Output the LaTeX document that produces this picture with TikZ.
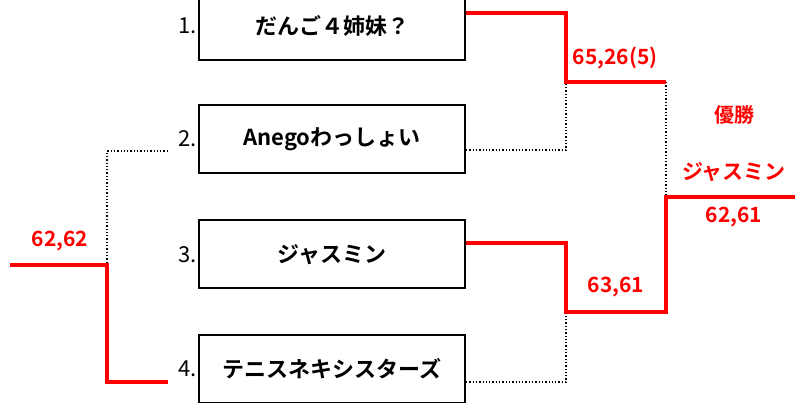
\documentclass[tikz,border=0pt]{standalone}
\usepackage{fontspec}
\setmainfont{Noto Sans CJK JP}[BoldFont={Noto Sans CJK JP Bold}]
\usepackage{xcolor}
\usetikzlibrary{calc}
\definecolor{winred}{HTML}{FF0000}

\begin{document}
\begin{tikzpicture}[x=1pt,y=-1pt]
    % Styles for boxes and lines
    \tikzset{
      box/.style={rectangle, draw=black, line width=2pt, minimum width=266pt, minimum height=68pt, inner sep=0pt, font=\fontsize{22}{26}\selectfont\bfseries},
      num/.style={anchor=east, inner sep=0pt, font=\fontsize{22}{26}\selectfont},
      score/.style={text=winred, inner sep=0pt, font=\fontsize{21}{25}\selectfont\bfseries},
      win/.style={draw=winred, line width=3.2pt},
      lose/.style={draw=black, line width=1.3pt, dotted}
    }
    \useasboundingbox (0,0) rectangle (795,403);
    \clip (0,0) rectangle (795,403);

    % Team boxes with explicit coordinates
    \node[box] (t1) at (332,26) {だんご４姉妹？};
    \node[box] (t2) at (332,139) {Anegoわっしょい};
    \node[box] (t3) at (332,254.5) {ジャスミン};
    \node[box] (t4) at (332,369) {テニスネキシスターズ};

    % Seed numbers
    \node[num] (n1) at (197,26) {1.};
    \node[num] (n2) at (197,139) {2.};
    \node[num] (n3) at (197,254.5) {3.};
    \node[num] (n4) at (197,369) {4.};

    % Junctions
    \coordinate (semiA) at (566,82);
    \coordinate (semiB) at (566,312);
    \coordinate (finA) at (666,82);
    \coordinate (finB) at (666,312);
    \coordinate (champ) at (666,197);
    \coordinate (champEnd) at (795,197);
    \coordinate (left2) at (168,151);
    \coordinate (left4) at (168,382);
    \coordinate (leftJ) at (107,265);
    \coordinate (leftEnd) at (10,265);

    % Lost paths
    \draw[lose] ($(t2.east)+(0,11)$) -| (semiA);
    \draw[lose] ($(t4.east)+(0,13)$) -| (semiB);
    \draw[lose] (finA) -- (champ);
    \draw[lose] (left2) -| (leftJ);

    % Winning paths
    \draw[win] ($(t1.east)+(0,-13)$) -| (semiA) -- (finA);
    \draw[win] ($(t3.east)+(0,-11.5)$) -| (semiB) -- (finB) -- (champ) -- (champEnd);
    \draw[win] (leftEnd) -- (leftJ) |- (left4);

    % Scores
    \node[score] (sA) at (615,58) {65,26(5)};
    \node[score] (sB) at (616,287) {63,61};
    \node[score] (sL) at (60,241) {62,62};
    \node[score, font=\fontsize{20}{24}\selectfont\bfseries] (title) at (734,115) {優勝};
    \node[score, font=\fontsize{21}{25}\selectfont\bfseries] (winner) at (734,172) {ジャスミン};
    \node[score] (sF) at (734,217) {62,61};

\end{tikzpicture}
\end{document}
